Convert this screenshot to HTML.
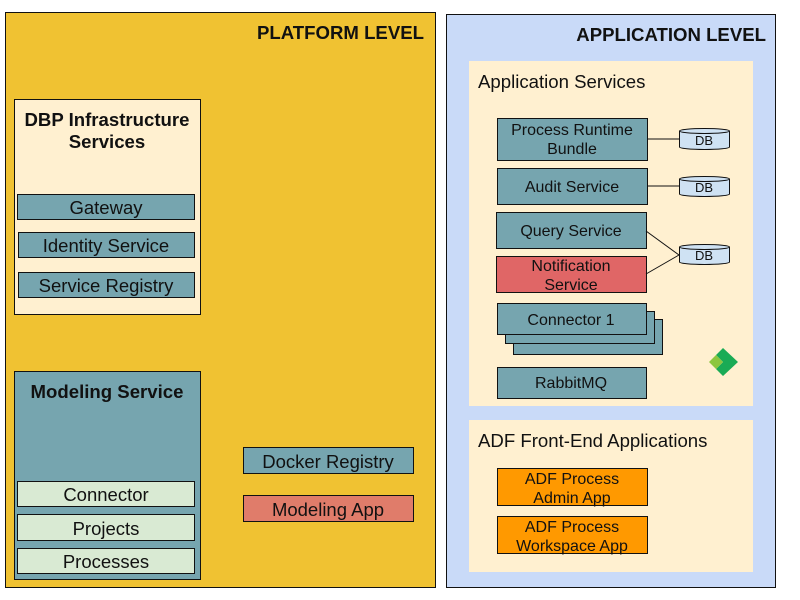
<!DOCTYPE html>
<html><head><meta charset="utf-8"><style>
html,body{margin:0;padding:0;background:#fff;width:800px;height:600px;overflow:hidden}
text{font-family:"Liberation Sans",Arial,sans-serif;fill:#111}
</style></head><body>
<svg width="800" height="600" xmlns="http://www.w3.org/2000/svg">
<g stroke="#111" stroke-width="1">
<rect x="5.5" y="12.5" width="430" height="575" fill="#f0c232"/>
<rect x="14.5" y="99.5" width="186" height="215" fill="#fff0d0"/>
<rect x="17.5" y="194.5" width="177" height="25" fill="#76a5af"/>
<rect x="18.5" y="232.5" width="176" height="25" fill="#76a5af"/>
<rect x="18.5" y="272.5" width="176" height="25" fill="#76a5af"/>
<rect x="14.5" y="371.5" width="186" height="208" fill="#76a5af"/>
<rect x="17.5" y="481.5" width="177" height="25" fill="#d9ead3"/>
<rect x="17.5" y="514.5" width="177" height="26" fill="#d9ead3"/>
<rect x="17.5" y="548.5" width="177" height="25" fill="#d9ead3"/>
<rect x="243.5" y="447.5" width="170" height="26" fill="#76a5af"/>
<rect x="243.5" y="495.5" width="170" height="26" fill="#e07c6a"/>
<rect x="446.5" y="14.5" width="329" height="573" fill="#c9daf8"/>
</g>
<rect x="469" y="61" width="284" height="345" fill="#fff0d0"/>
<rect x="469" y="420" width="284" height="152" fill="#fff0d0"/>
<g stroke="#111" stroke-width="1">
<rect x="497.5" y="118.5" width="150" height="42" fill="#76a5af"/>
<rect x="497.5" y="168.5" width="150" height="36" fill="#76a5af"/>
<rect x="496.5" y="212.5" width="150" height="36" fill="#76a5af"/>
<rect x="496.5" y="256.5" width="150" height="36" fill="#e06666"/>
<rect x="513.5" y="319.5" width="149" height="35" fill="#76a5af"/>
<rect x="505.5" y="311.5" width="149" height="32" fill="#76a5af"/>
<rect x="497.5" y="303.5" width="149" height="31" fill="#76a5af"/>
<rect x="497.5" y="367.5" width="149" height="31" fill="#76a5af"/>
<rect x="497.5" y="468.5" width="150" height="37" fill="#ff9900"/>
<rect x="497.5" y="516.5" width="150" height="37" fill="#ff9900"/>
<line x1="647" y1="139" x2="679" y2="139"/>
<line x1="647" y1="186" x2="679" y2="186"/>
<line x1="646" y1="231" x2="679" y2="255"/>
<line x1="646" y1="274" x2="679" y2="255"/>
</g>
<g stroke="#111" stroke-width="1" fill="#cfe2f3">
<path d="M679.5 131 v16 a25 2.5 0 0 0 50 0 v-16"/><ellipse cx="704.5" cy="131" rx="25" ry="2.5"/>
<path d="M679.5 179 v15 a25 2.5 0 0 0 50 0 v-15"/><ellipse cx="704.5" cy="179" rx="25" ry="2.5"/>
<path d="M679.5 247 v15 a25 2.5 0 0 0 50 0 v-15"/><ellipse cx="704.5" cy="247" rx="25" ry="2.5"/>
</g>
<polygon points="723,348 738,362 723,376 716,369 723,362 716,355" fill="#1aab55"/>
<polygon points="716,355 723,362 716,369 709,362" fill="#8cc63f"/>
<g font-size="18.6" font-weight="bold">
<text x="424" y="39" text-anchor="end">PLATFORM LEVEL</text>
<text x="766" y="41" text-anchor="end">APPLICATION LEVEL</text>
<text x="107" y="126" text-anchor="middle">DBP Infrastructure</text>
<text x="107" y="148" text-anchor="middle">Services</text>
<text x="107" y="398" text-anchor="middle">Modeling Service</text>
</g>
<g font-size="18.5" text-anchor="middle">
<text x="106" y="214">Gateway</text>
<text x="106" y="252">Identity Service</text>
<text x="106" y="292">Service Registry</text>
<text x="106" y="501">Connector</text>
<text x="106" y="535">Projects</text>
<text x="106" y="568">Processes</text>
<text x="328" y="468">Docker Registry</text>
<text x="328" y="516">Modeling App</text>
</g>
<g font-size="18.6">
<text x="478" y="88">Application Services</text>
<text x="478" y="447">ADF Front-End Applications</text>
</g>
<g font-size="16" text-anchor="middle">
<text x="572" y="135">Process Runtime</text>
<text x="572" y="154">Bundle</text>
<text x="572" y="192">Audit Service</text>
<text x="571" y="236">Query Service</text>
<text x="571" y="271">Notification</text>
<text x="571" y="290">Service</text>
<text x="571" y="325">Connector 1</text>
<text x="571" y="388">RabbitMQ</text>
<text x="572" y="484">ADF Process</text>
<text x="572" y="503">Admin App</text>
<text x="572" y="532">ADF Process</text>
<text x="572" y="551">Workspace App</text>
</g>
<g font-size="13" text-anchor="middle">
<text x="704" y="145">DB</text>
<text x="704" y="192">DB</text>
<text x="704" y="260">DB</text>
</g>
</svg>
</body></html>
